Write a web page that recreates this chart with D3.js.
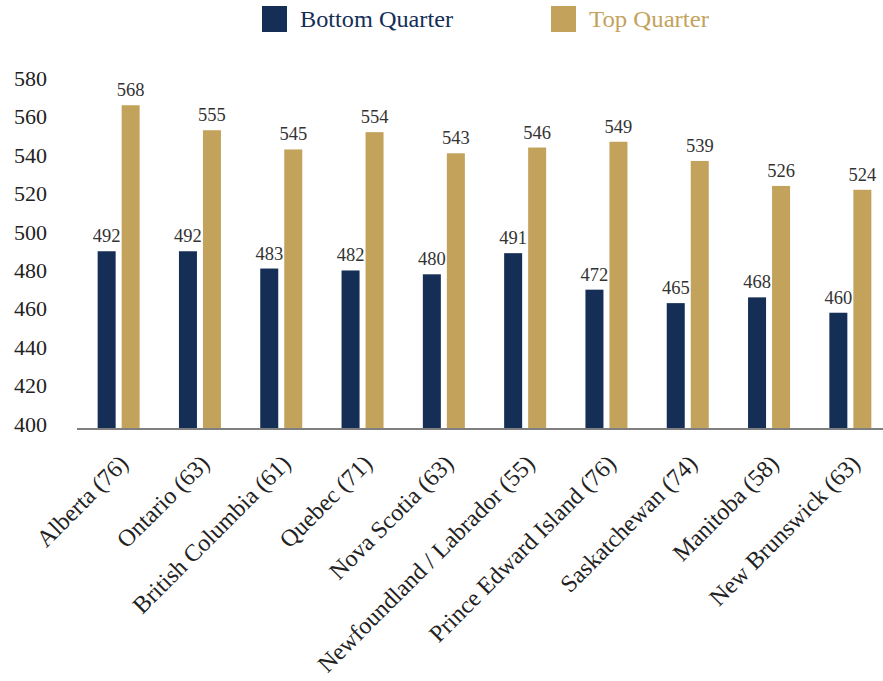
<!DOCTYPE html>
<html>
<head>
<meta charset="utf-8">
<script src="https://cdn.jsdelivr.net/npm/d3@7"></script>
<style>
  html, body { margin: 0; padding: 0; background: #fff; }
  svg { display: block; font-family: "Liberation Serif", "Times New Roman", serif; }
</style>
</head>
<body>
<svg id="chart" width="883" height="681"></svg>
<script>
const categories = ["Alberta (76)", "Ontario (63)", "British Columbia (61)", "Quebec (71)", "Nova Scotia (63)",
  "Newfoundland / Labrador (55)", "Prince Edward Island (76)", "Saskatchewan (74)", "Manitoba (58)", "New Brunswick (63)"];
const bottomQuarter = [492, 492, 483, 482, 480, 491, 472, 465, 468, 460];
const topQuarter = [568, 555, 545, 554, 543, 546, 549, 539, 526, 524];
const seriesNames = ["Bottom Quarter", "Top Quarter"];
const seriesColors = ["#142e56", "#c3a35c"];
const yTicks = [400, 420, 440, 460, 480, 500, 520, 540, 560, 580];

const svg = d3.select("#chart");
const x = d3.scaleBand().domain(categories).range([78, 891]);
const y = d3.scaleLinear().domain([400, 580]).range([428, 82.2]);

const barW = 18;
const offsets = [-21, 3];
const series = [bottomQuarter, topQuarter];

// y tick labels
svg.append("g").selectAll("text").data(yTicks).join("text")
  .attr("x", 47).attr("y", d => y(d) - 4).attr("dy", "0.35em")
  .attr("text-anchor", "end").attr("font-size", 22).attr("fill", "#222")
  .text(d => d);

// bars + value labels
series.forEach((vals, si) => {
  const g = svg.append("g");
  g.selectAll("rect").data(vals).join("rect")
    .attr("x", (d, i) => x(categories[i]) + x.bandwidth() / 2 + offsets[si])
    .attr("y", d => y(d))
    .attr("width", barW)
    .attr("height", d => y(400) - y(d))
    .attr("fill", seriesColors[si]);
  g.selectAll("text").data(vals).join("text")
    .attr("x", (d, i) => x(categories[i]) + x.bandwidth() / 2 + offsets[si] + barW / 2)
    .attr("y", d => y(d) - 9)
    .attr("text-anchor", "middle").attr("font-size", 18.5).attr("fill", "#333")
    .text(d => d);
});

// baseline
svg.append("line").attr("x1", 77).attr("x2", 883).attr("y1", y(400) + 1).attr("y2", y(400) + 1)
  .attr("stroke", "#7f7f7f").attr("stroke-width", 2);

// x category labels
svg.append("g").selectAll("text").data(categories).join("text")
  .attr("transform", d => `translate(${x(d) + x.bandwidth() / 2 + 11},${465}) rotate(-45)`)
  .attr("text-anchor", "end").attr("font-size", 24).attr("fill", "#222")
  .text(d => d);

// legend
const legendX = [262, 551];
const legendTextW = [153, 120];
seriesNames.forEach((name, i) => {
  svg.append("rect").attr("x", legendX[i]).attr("y", 6).attr("width", 25).attr("height", 26)
    .attr("fill", seriesColors[i]);
  svg.append("text").attr("x", legendX[i] + 38).attr("y", 19).attr("dy", "0.35em")
    .attr("font-size", 23).attr("fill", seriesColors[i])
    .attr("textLength", legendTextW[i]).attr("lengthAdjust", "spacingAndGlyphs")
    .text(name);
});
</script>
</body>
</html>
